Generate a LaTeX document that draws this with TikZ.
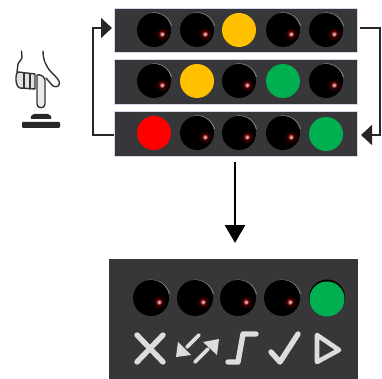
\documentclass[tikz,border=0pt]{standalone}
\usetikzlibrary{arrows.meta,calc}
\definecolor{panelc}{HTML}{37373A}
\definecolor{edgec}{HTML}{D4DAEC}
\definecolor{amberc}{HTML}{FFC000}
\definecolor{greenc}{HTML}{00B050}
\definecolor{iconc}{HTML}{DDDDDD}
\definecolor{ledrim}{HTML}{8A8A8C}
\tikzset{
  x=1pt,y=-1pt,
  panelbox/.style={rectangle,draw=edgec,line width=.8pt,fill=panelc,inner sep=0pt,outer sep=0pt,anchor=north west},
  panelbig/.style={rectangle,fill=panelc,inner sep=0pt,outer sep=0pt,anchor=north west},
  litlamp/.style={circle,inner sep=0pt,outer sep=0pt,minimum size=34pt},
  flow/.style={line width=1.4pt,draw=black!85},
  bighead/.style={-{Triangle[length=11pt,width=20pt]}},
  mainflow/.style={line width=2.8pt,black,-{Triangle[length=18pt,width=20pt]}},
  iconline/.style={line width=5.4pt,draw=iconc,line cap=round,line join=round},
  handline/.style={line width=1.4pt,draw=black!80,line cap=round,line join=round},
}
\newcommand{\darklamp}[3]{% x y size
  \draw[ledrim,line width=.8pt] (#1+#3+.5,#2-4) arc[start angle=-15,end angle=-100,radius=#3+.8];
  \fill[black] (#1,#2) circle (#3);
  \shade[inner color=red!40!black,outer color=black] (#1+8,#2+4) circle (7);
  \shade[inner color=white!85!red,outer color=red!40!black] (#1+8,#2+4) circle (3);
}
\begin{document}
\begin{tikzpicture}
\useasboundingbox (0,0) rectangle (382,379);
% panels
\node[panelbox,minimum width=243pt,minimum height=44pt] (top) at (114,8) {};
\node[panelbox,minimum width=243pt,minimum height=45pt] (mid) at (114,59) {};
\node[panelbox,minimum width=243pt,minimum height=45pt] (bot) at (114,111) {};
\node[panelbig,minimum width=249pt,minimum height=120pt] (big) at (109,259) {};
% top row
\darklamp{154}{30}{17}\darklamp{197}{30}{17}\darklamp{283}{30}{17}\darklamp{326}{30}{17}
\node[litlamp,fill=amberc] (ta) at (239,30) {};
% mid row
\darklamp{154}{81}{17}\darklamp{239}{81}{17}\darklamp{326}{81}{17}
\node[litlamp,fill=amberc] (ma) at (197,81) {};
\node[litlamp,fill=greenc] (mg) at (283,81) {};
% bottom row
\darklamp{197}{133}{17}\darklamp{239}{133}{17}\darklamp{283}{133}{17}
\node[litlamp,fill=red] (br) at (154,133) {};
\node[litlamp,fill=greenc] (bg) at (326,134) {};
% big panel
\darklamp{151}{298}{18}\darklamp{195}{298}{18}\darklamp{238}{298}{18}\darklamp{282}{298}{18}
\fill[black] (327,297.5) circle (18);
\node[litlamp,fill=greenc,minimum size=35pt] (gg) at (327,299) {};
% icons
\draw[iconline] (137,335) -- (163,362) (163,335) -- (137,362);
\draw[iconline,line width=3.6pt] (199,335) -- (187,347);
\fill[iconc] (176,357) -- (178,342) -- (191,355) -- cycle;
\draw[iconline,line width=3.6pt] (195,362) -- (208,349);
\fill[iconc] (219,339) -- (217,355) -- (203,342) -- cycle;
\draw[iconline] (256,334) -- (243,334) -- (238,362) -- (228,362);
\draw[iconline] (271,352) -- (280,362) -- (298,334);
\draw[iconline,line width=4.6pt] (317,335) -- (339,350) -- (317,362) -- cycle;
% connectors
\coordinate (lefttop) at (93,28);
\coordinate (leftbot) at (93,135);
\coordinate (righttop) at (380,28);
\coordinate (rightbot) at (380,135);
\draw[flow,bighead] ($(bot.west)+(0,1.5)$) -- (leftbot) -- (lefttop) -- ($(top.west)+(-2,-2)$);
\draw[flow,bighead] ($(top.east)+(3,-2)$) -- (righttop) -- (rightbot) -- ($(bot.east)+(4,1.5)$);
\coordinate (downend) at (235,243);
\draw[mainflow] ($(bot.south)+(-0.5,6)$) -- (downend);
% hand
\draw[handline] (21.5,51) -- (22,58) -- (18,64) -- (17,72)
  (43,51) .. controls (43,60) and (46,66) .. (51,72) .. controls (55,76) and (60,80) .. (59.5,84) .. controls (58,88) and (54,87) .. (52,85) -- (46,78);
\draw[handline,fill=black!12] (18,72) -- (35,74) -- (35,89) -- (20,88) .. controls (15,87) and (15,73) .. (18,72);
\draw[handline] (24,73) -- (24,88) (30,74) -- (30,89);
\draw[handline,fill=black!8] (37,75) -- (37,104) .. controls (37,109) and (45,109) .. (45,104) -- (45,80) .. controls (44,76) and (40,74) .. (37,75);
\fill[black!85,rounded corners=2pt] (30,119) -- (32,114) -- (50,114) -- (52,119) -- cycle;
\fill[black!85,rounded corners=1pt] (22,122) rectangle (60,128);
\end{tikzpicture}
\end{document}
